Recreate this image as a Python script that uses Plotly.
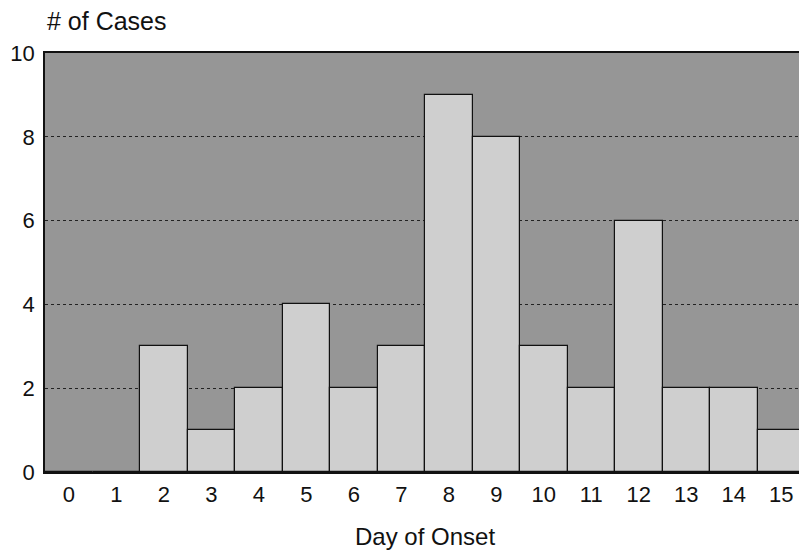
import plotly.graph_objects as go

days = list(range(16))
day_labels = [str(d) for d in days]
cases = [0, 0, 3, 1, 2, 4, 2, 3, 9, 8, 3, 2, 6, 2, 2, 1]
y_ticks = [0, 2, 4, 6, 8, 10]

FONT = "Liberation Sans"

fig = go.Figure(
    go.Bar(
        x=days,
        y=cases,
        marker=dict(color="#cfcfcf", line=dict(color="#111111", width=1.2)),
        width=1.0,
    )
)

fig.update_layout(
    width=799,
    height=544,
    margin=dict(l=37, r=0, t=45, b=80),
    paper_bgcolor="white",
    plot_bgcolor="#969696",
    bargap=0,
    showlegend=False,
    font=dict(family=FONT, size=22, color="#111111"),
    xaxis=dict(
        range=[-0.5, 15.5],
        tickmode="array",
        tickvals=days,
        ticktext=day_labels,
        showgrid=False,
        zeroline=False,
        showline=True,
        linecolor="#111111",
        linewidth=1.5,
        mirror=True,
        ticks="",
        ticklabelstandoff=2,
        tickfont=dict(family=FONT, size=22, color="#111111"),
        fixedrange=True,
    ),
    yaxis=dict(
        range=[0, 10],
        tickmode="array",
        tickvals=y_ticks,
        ticktext=[str(v) for v in y_ticks],
        showgrid=True,
        gridcolor="#222222",
        griddash="dot",
        gridwidth=1,
        zeroline=False,
        showline=True,
        linecolor="#111111",
        linewidth=1.5,
        mirror=True,
        ticks="",
        ticklabelstandoff=4,
        tickfont=dict(family=FONT, size=22, color="#111111"),
        fixedrange=True,
    ),
    annotations=[
        dict(
            text="# of Cases",
            xref="paper", yref="paper",
            x=0, y=1,
            xanchor="left", yanchor="middle",
            xshift=0, yshift=32,
            showarrow=False,
            font=dict(family=FONT, size=25, color="#111111"),
        ),
        dict(
            text="Day of Onset",
            xref="paper", yref="paper",
            x=0.5, y=0,
            xanchor="center", yanchor="middle",
            yshift=-64,
            showarrow=False,
            font=dict(family=FONT, size=24, color="#111111"),
        ),
    ],
)

fig.write_html("out.html")
